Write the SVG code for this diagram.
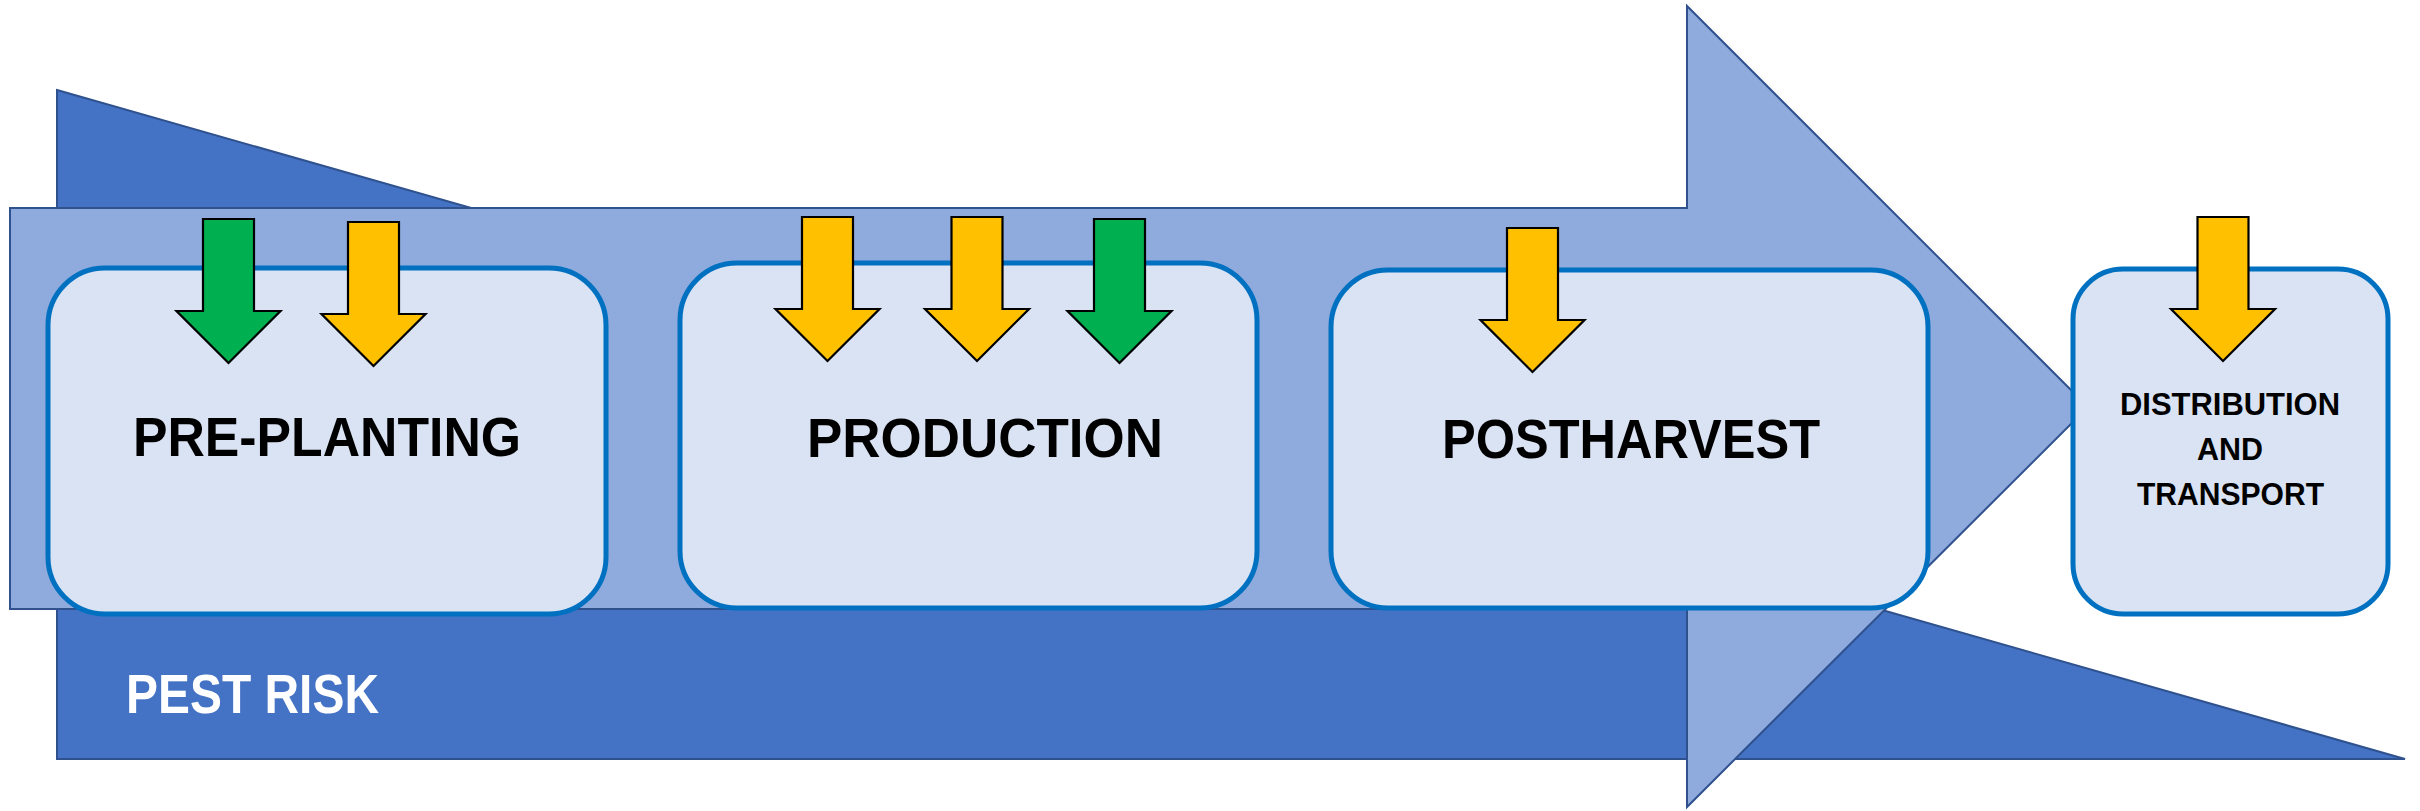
<svg xmlns="http://www.w3.org/2000/svg" xmlns:xlink="http://www.w3.org/1999/xlink" width="2420" height="811" viewBox="0 0 2420 811">
  <style>
    .band { fill: #4472C4; stroke: #2F528F; stroke-width: 2; stroke-linejoin: miter; }
    .flow { fill: #8FAADC; stroke: #2F528F; stroke-width: 2; stroke-linejoin: miter; }
    .stage { fill: #DAE3F3; stroke: #0070C0; stroke-width: 5; }
    .pin { stroke: #000000; stroke-width: 2.2; stroke-linejoin: miter; }
    .green { fill: #00B050; }
    .amber { fill: #FFC000; }
    .label { font-family: "Liberation Sans", Arial, sans-serif; font-weight: bold; fill: #000000; }
    .big { font-size: 56px; }
    .small { font-size: 31px; text-anchor: middle; }
    .risk { font-family: "Liberation Sans", Arial, sans-serif; font-weight: bold; font-size: 56px; fill: #FFFFFF; }
  </style>
  <defs>
    <!-- downward block arrow, origin at the top centre of the shaft -->
    <path id="pin" d="M-25.5,0 H25.5 V92 H52 L0,144 L-52,92 H-25.5 Z"/>
  </defs>

  <rect width="2420" height="811" fill="#FFFFFF"/>

  <!-- backdrop: pest-risk wedge and the process arrow -->
  <g id="connectors">
    <polygon id="risk-wedge" class="band" points="57,90 2405,759 57,759"/>
    <polygon id="process-arrow" class="flow" points="10,208 1687,208 1687,6 2088,407 1687,807 1687,609 10,609"/>
    <text class="risk" x="126" y="713" textLength="253" lengthAdjust="spacingAndGlyphs">PEST RISK</text>
  </g>

  <g id="pre-planting">
    <rect class="stage" x="48" y="268" width="558" height="346" rx="57" ry="57"/>
    <use xlink:href="#pin" class="pin green" transform="translate(228.5,219)"/>
    <use xlink:href="#pin" class="pin amber" transform="translate(373.5,222)"/>
    <text class="label big" x="133" y="456" textLength="388" lengthAdjust="spacingAndGlyphs">PRE-PLANTING</text>
  </g>

  <g id="production">
    <rect class="stage" x="680" y="263" width="577" height="345" rx="57" ry="57"/>
    <use xlink:href="#pin" class="pin amber" transform="translate(827.5,217)"/>
    <use xlink:href="#pin" class="pin amber" transform="translate(977,217)"/>
    <use xlink:href="#pin" class="pin green" transform="translate(1119.5,219)"/>
    <text class="label big" x="807" y="457" textLength="356" lengthAdjust="spacingAndGlyphs">PRODUCTION</text>
  </g>

  <g id="postharvest">
    <rect class="stage" x="1331" y="270" width="597" height="338" rx="57" ry="57"/>
    <use xlink:href="#pin" class="pin amber" transform="translate(1532.5,228)"/>
    <text class="label big" x="1442" y="458" textLength="378" lengthAdjust="spacingAndGlyphs">POSTHARVEST</text>
  </g>

  <g id="distribution">
    <rect class="stage" x="2073" y="269" width="315" height="345" rx="50" ry="50"/>
    <use xlink:href="#pin" class="pin amber" transform="translate(2223,217)"/>
    <text class="label small" x="2230" y="415" textLength="220" lengthAdjust="spacingAndGlyphs">DISTRIBUTION</text>
    <text class="label small" x="2230" y="460" textLength="66" lengthAdjust="spacingAndGlyphs">AND</text>
    <text class="label small" x="2230.5" y="505" textLength="187" lengthAdjust="spacingAndGlyphs">TRANSPORT</text>
  </g>
</svg>
